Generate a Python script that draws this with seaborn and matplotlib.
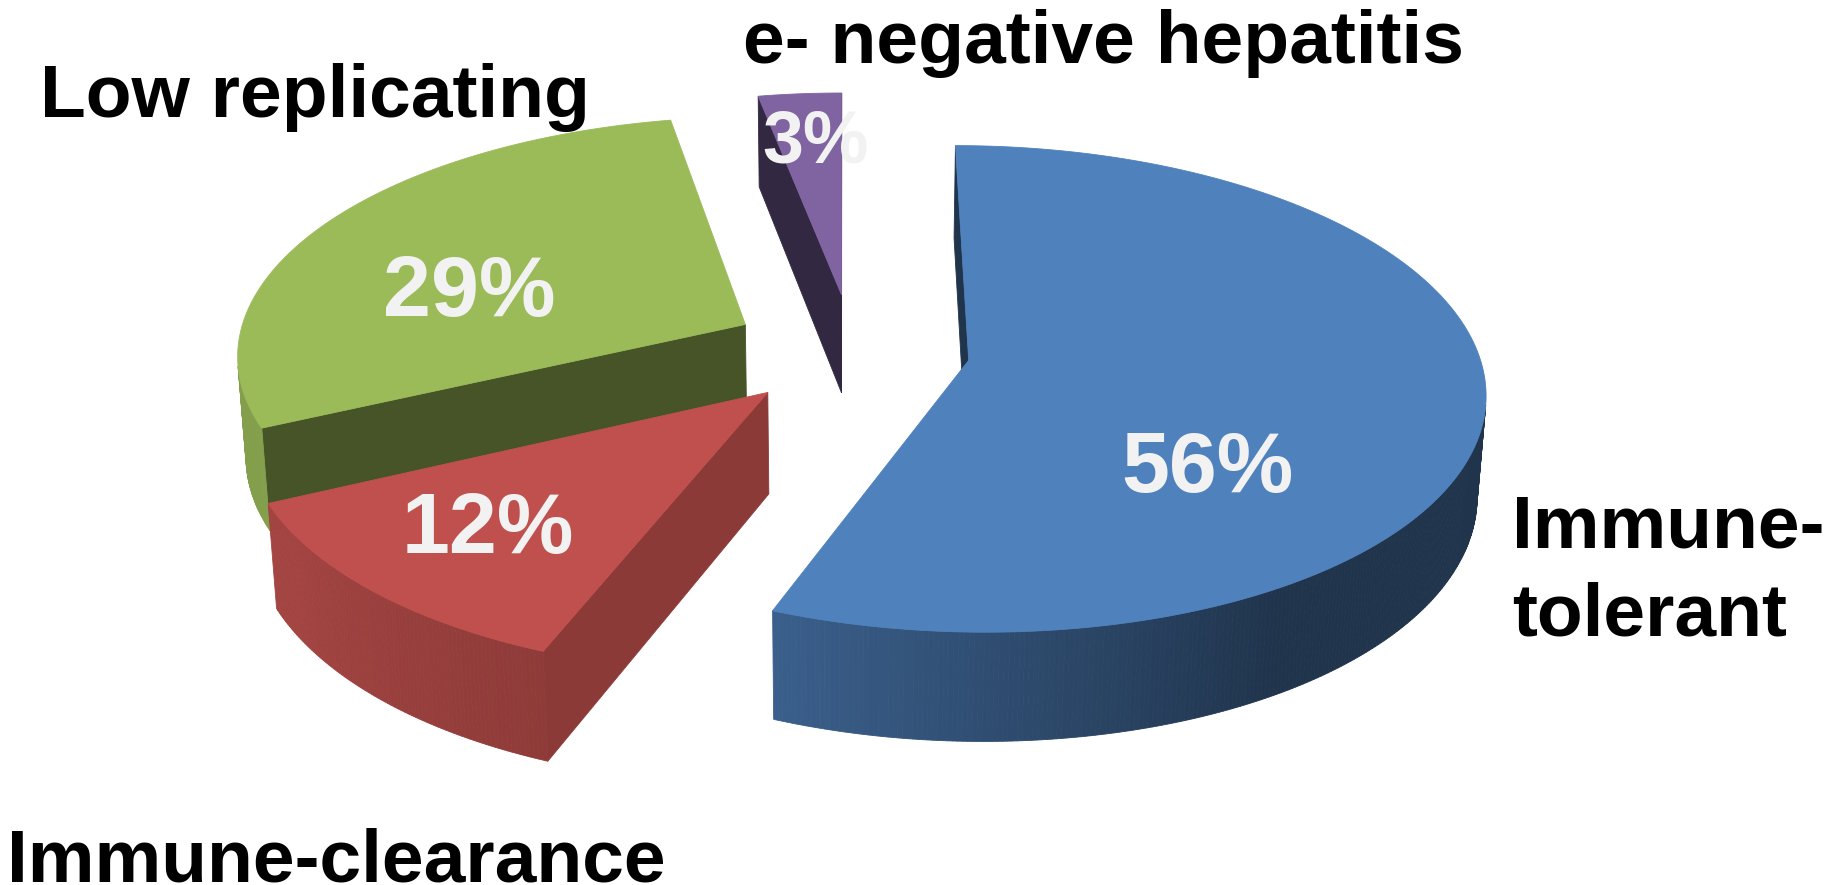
import numpy as np
import matplotlib
matplotlib.use("Agg")
import matplotlib.pyplot as plt
from matplotlib.patches import Polygon
from matplotlib import colors as mcolors
import seaborn as sns

# ---- chart data -------------------------------------------------------
categories = ["Immune-\ntolerant", "Immune-clearance", "Low replicating", "e- negative hepatitis"]
values = [56, 12, 29, 3]
pct_labels = ["56%", "12%", "29%", "3%"]
slice_colors = ["#4F81BD", "#C0504D", "#9BBB59", "#8064A2"]
explode = [0.23, 0.24, 0.24, 0.24]

# ---- styling / layout -------------------------------------------------
W, H = 1841, 885
wall_shade = [0.40, 0.73, 0.45, 0.40]        # radial cut faces
label_r = [0.59, 0.70, 0.59, 0.77]           # value label radius (fraction)
label_ang = [-42.8, -135.3, 163.0, 94.2]     # value label angle (deg)
label_size = [62, 62, 62, 53]
cat_pos = [(1512, 635), (7, 882), (40, 117), (743, 63)]

sns.set_theme(style="white")
plt.rcParams["font.family"] = ["Liberation Sans", "DejaVu Sans"]

fig = plt.figure(figsize=(W / 100, H / 100), dpi=100)
ax = fig.add_axes([0, 0, 1, 1])
ax.set_xlim(0, W)
ax.set_ylim(H, 0)
ax.axis("off")

# ---- perspective camera ----------------------------------------------
tilt = np.radians(27.8)
dist = 7.56
focal = 3850.0
cam_x = -0.02
origin = (853.0, 350.0)
thick = 0.225
s_t, c_t = np.sin(tilt), np.cos(tilt)
cam = np.array([cam_x, -dist * c_t, dist * s_t])


def proj(X, Y, Z):
    X, Y, Z = (np.asarray(a, dtype=float) for a in (X, Y, Z))
    depth = dist + Y * c_t - Z * s_t
    px = origin[0] + focal * ((X - cam_x) / depth + cam_x / dist)
    py = origin[1] - focal * (Y * s_t + Z * c_t) / depth
    return np.column_stack([np.atleast_1d(px), np.atleast_1d(py)])


def facing(p, n):
    return np.dot(cam - p, n) > 0


def shade(color, k):
    r, g, b = mcolors.to_rgb(color)
    return (r * k, g * k, b * k)


def outer_shade(phi_deg):
    # lighter towards the front-left, darkening quickly towards the right
    phin = (phi_deg + 200.0) % 360.0 - 200.0
    if phin > -111.6:
        k = 0.74 - 0.0064 * (phin + 111.6)
    else:
        k = 0.74 + 0.003 * (-111.6 - phin)
    return float(np.clip(k, 0.40, 0.85))


def face(pts, color):
    ax.add_patch(Polygon(pts, closed=True, facecolor=color, edgecolor=color,
                         linewidth=0.6, antialiased=True))


fracs = np.array(values, dtype=float) / np.sum(values)
ends = 90.0 - 360.0 * np.cumsum(fracs)
starts = ends + 360.0 * fracs
mids = np.radians((starts + ends) / 2.0)
offsets = [(e * np.cos(m), e * np.sin(m)) for e, m in zip(explode, mids)]

# back-to-front drawing order
order = sorted(range(len(values)), key=lambda i: -offsets[i][1])

for i in order:
    ox, oy = offsets[i]
    col = slice_colors[i]
    a0, a1 = np.radians(starts[i]), np.radians(ends[i])
    nseg = max(10, int(fracs[i] * 720))
    phis = np.linspace(a0, a1, nseg + 1)
    rimx = ox + np.cos(phis)
    rimy = oy + np.sin(phis)

    # radial cut faces
    for ang, nang in ((a0, a0 + np.pi / 2), (a1, a1 - np.pi / 2)):
        ex, ey = ox + np.cos(ang), oy + np.sin(ang)
        n = np.array([np.cos(nang), np.sin(nang), 0.0])
        mp = np.array([(ox + ex) / 2, (oy + ey) / 2, -thick / 2])
        if facing(mp, n):
            pts = proj([ox, ex, ex, ox], [oy, ey, ey, oy], [0, 0, -thick, -thick])
            face(pts, shade(col, wall_shade[i]))

    # curved outer wall
    for j in range(nseg):
        pm = 0.5 * (phis[j] + phis[j + 1])
        p = np.array([ox + np.cos(pm), oy + np.sin(pm), -thick / 2])
        n = np.array([np.cos(pm), np.sin(pm), 0.0])
        if facing(p, n):
            pts = proj([rimx[j], rimx[j + 1], rimx[j + 1], rimx[j]],
                       [rimy[j], rimy[j + 1], rimy[j + 1], rimy[j]],
                       [0, 0, -thick, -thick])
            face(pts, shade(col, outer_shade(np.degrees(pm))))

    # top face
    pts = proj(np.r_[ox, rimx], np.r_[oy, rimy], np.zeros(nseg + 2))
    face(pts, col)

# value labels on the top faces
for i in range(len(values)):
    ox, oy = offsets[i]
    a = np.radians(label_ang[i])
    px, py = proj(ox + label_r[i] * np.cos(a), oy + label_r[i] * np.sin(a), 0.0)[0]
    cap = 0.716 * label_size[i] * 100 / 72
    ax.text(px, py + cap / 2, pct_labels[i], color="#F2F2F2", fontsize=label_size[i],
            fontweight="bold", ha="center", va="baseline")

# category labels
for name, (x, y) in zip(categories, cat_pos):
    ax.text(x, y, name, color="black", fontsize=54, fontweight="bold",
            ha="left", va="baseline", linespacing=1.34)

fig.savefig("out.png", dpi=100, facecolor="white")
